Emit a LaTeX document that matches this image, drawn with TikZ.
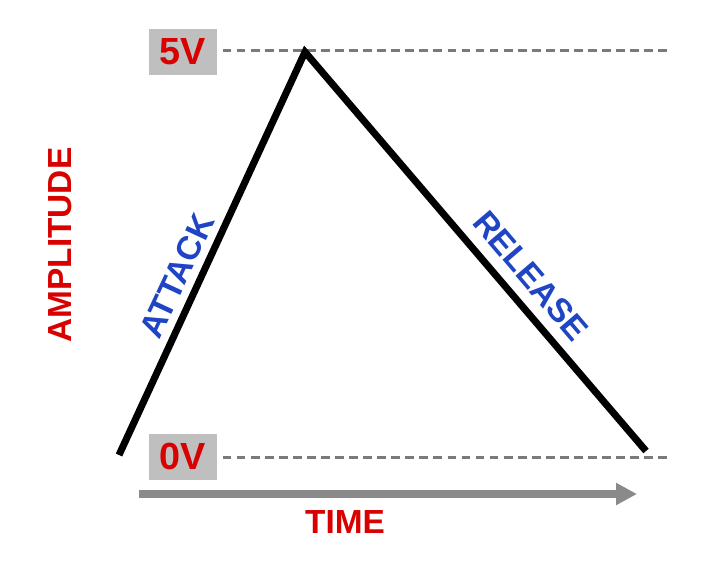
\documentclass[tikz,border=0pt]{standalone}
\usepackage{fontspec}
\setmainfont{Liberation Sans}
\usetikzlibrary{arrows.meta,positioning}

\definecolor{voltred}{HTML}{D90000}
\definecolor{phaseblue}{HTML}{1F45C4}
\definecolor{boxgray}{HTML}{BFBFBF}
\definecolor{dashgray}{HTML}{7A7A7A}
\definecolor{axisgray}{HTML}{8A8A8A}

\begin{document}
\begin{tikzpicture}[x=0.02cm, y=-0.02cm, >=Stealth,
  lbl/.style={font=\bfseries\fontsize{19}{22}\selectfont},
  voltbox/.style={font=\bfseries\fontsize{21.5}{24}\selectfont, text=voltred, fill=boxgray, minimum width=1.36cm, minimum height=0.92cm, inner sep=0pt},
  level/.style={dashgray, line width=1.4pt, dash pattern=on 5pt off 3pt}]

  % canvas (pixel units, y downwards)
  \useasboundingbox (0,0) rectangle (708,562);

  % corners of the envelope
  \coordinate (start) at (119,455);
  \coordinate (peak) at (305,52);
  \coordinate (stop) at (646,451);

  % voltage boxes
  \node[voltbox] (v5) at (183,51.5) {5V};
  \node[voltbox] (v0) at (183,456.5) {0V};

  % dashed levels
  \coordinate (v5end) at (670,50.5);
  \coordinate (v0end) at (670,457.5);
  \draw[level] ([xshift=3pt]v5.east |- v5end) -- (v5end);
  \draw[level] ([xshift=3pt]v0.east |- v0end) -- (v0end);

  % the envelope
  \draw[line width=4pt, line join=miter] (start) -- (peak) -- (stop);

  % time axis
  \coordinate (t0) at (139,494);
  \coordinate (t1) at (637,494);
  \draw[-{Triangle[length=0.42cm, width=0.42cm]}, axisgray, line width=4pt] (t0) -- (t1);

  % labels
  \node[lbl, text=voltred] (time) at (345,522) {TIME};
  \node[lbl, text=voltred, rotate=90] (amp) at (60,245) {AMPLITUDE};
  \node[lbl, text=phaseblue, rotate=65] (attack) at (177,276) {ATTACK};
  \node[lbl, text=phaseblue, rotate=-49.5] (release) at (531,276) {RELEASE};

\end{tikzpicture}
\end{document}
